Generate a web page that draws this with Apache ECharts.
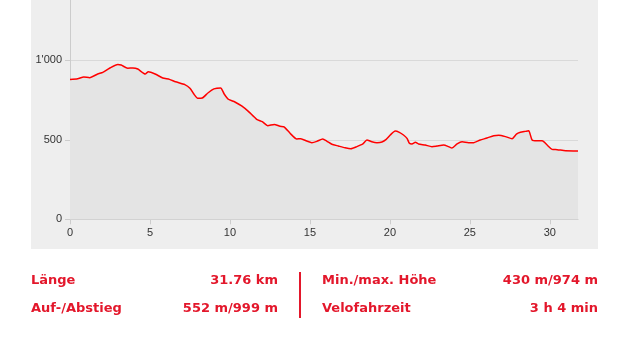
<!DOCTYPE html>
<html>
<head>
<meta charset="utf-8">
<script src="https://cdn.jsdelivr.net/npm/echarts@6/dist/echarts.min.js"></script>
<style>
html,body{margin:0;padding:0;background:#fff;}
#c{width:629px;height:342px;}
</style>
</head>
<body>
<div id="c"></div>
<script>
const distKm = [0, 0.48, 0.86, 1.23, 1.73, 2.05, 2.47, 2.99, 3.2, 3.61, 3.93, 4.24, 4.7, 4.9, 5.32, 5.8, 6.22, 6.6, 7.18, 7.5, 7.77, 7.98, 8.27, 8.64, 9.0, 9.42, 9.64, 9.9, 10.31, 10.73, 11.15, 11.67, 12.02, 12.36, 12.77, 13.13, 13.38, 13.76, 14.18, 14.43, 14.8, 15.12, 15.43, 15.8, 16.05, 16.37, 16.78, 17.2, 17.56, 17.93, 18.31, 18.56, 18.87, 19.19, 19.5, 19.77, 20.02, 20.33, 20.59, 20.85, 21.07, 21.22, 21.38, 21.59, 21.79, 22.21, 22.63, 22.94, 23.36, 23.67, 23.88, 24.2, 24.51, 24.92, 25.24, 25.65, 26.07, 26.49, 26.8, 27.22, 27.64, 27.91, 28.16, 28.47, 28.68, 28.89, 29.2, 29.52, 29.83, 30.14, 30.46, 30.98, 31.76];
const elevM = [880, 884, 895, 891, 914, 924, 950, 974, 970, 950, 952, 945, 914, 928, 914, 889, 880, 865, 847, 824, 784, 761, 763, 796, 820, 826, 788, 755, 738, 713, 679, 629, 614, 589, 597, 585, 582, 541, 505, 507, 492, 482, 490, 505, 492, 472, 461, 450, 444, 457, 474, 499, 488, 482, 486, 503, 530, 555, 547, 530, 509, 478, 474, 484, 474, 467, 457, 461, 467, 457, 448, 474, 488, 482, 482, 499, 511, 526, 528, 520, 507, 536, 547, 553, 557, 499, 494, 494, 467, 440, 438, 431, 430];
const xTicks = [0, 5, 10, 15, 20, 25, 30];
const yTicks = [0, 500, 1000];
const statLabelsLeft = ['Länge', 'Auf-/Abstieg'];
const statValuesLeft = ['31.76 km', '552 m/999 m'];
const statLabelsRight = ['Min./max. Höhe', 'Velofahrzeit'];
const statValuesRight = ['430 m/974 m', '3 h 4 min'];

const RED = '#e3172b';
const FONT = 'bold 13px "DejaVu Sans", Verdana, sans-serif';
const rowY = [281, 309];
const graphics = [
  { type: 'rect', z: -10, silent: true, shape: { x: 31, y: 0, width: 567, height: 249 }, style: { fill: '#eeeeee' } },
  { type: 'rect', z: 10, silent: true, shape: { x: 299, y: 272, width: 2, height: 46 }, style: { fill: RED } }
];
statLabelsLeft.forEach((t, i) => graphics.push({ type: 'text', z: 10, style: { text: t, x: 31, y: rowY[i], fill: RED, font: FONT, textAlign: 'left', textVerticalAlign: 'middle' } }));
statValuesLeft.forEach((t, i) => graphics.push({ type: 'text', z: 10, style: { text: t, x: 278, y: rowY[i], fill: RED, font: FONT, textAlign: 'right', textVerticalAlign: 'middle' } }));
statLabelsRight.forEach((t, i) => graphics.push({ type: 'text', z: 10, style: { text: t, x: 322, y: rowY[i], fill: RED, font: FONT, textAlign: 'left', textVerticalAlign: 'middle' } }));
statValuesRight.forEach((t, i) => graphics.push({ type: 'text', z: 10, style: { text: t, x: 598, y: rowY[i], fill: RED, font: FONT, textAlign: 'right', textVerticalAlign: 'middle' } }));

const chart = echarts.init(document.getElementById('c'), null, { renderer: 'canvas' });
chart.setOption({
  animation: false,
  backgroundColor: '#ffffff',
  grid: { left: 70, right: 51, top: -19.2, bottom: 122.7, containLabel: false, outerBoundsMode: 'none' },
  xAxis: {
    type: 'value', min: 0, max: distKm[distKm.length - 1], interval: 5,
    axisLine: { show: true, lineStyle: { color: '#cccccc', width: 1 } },
    axisTick: { show: true, length: 5, lineStyle: { color: '#cccccc' } },
    axisLabel: {
      margin: 8, color: '#333333', fontSize: 11, fontFamily: 'Arial, "Liberation Sans", sans-serif',
      showMaxLabel: false,
      formatter: v => xTicks.includes(v) ? String(v) : ''
    },
    splitLine: { show: false }
  },
  yAxis: {
    type: 'value', min: 0, max: 1500, interval: 500,
    axisLine: { show: true, lineStyle: { color: '#cccccc', width: 1 } },
    axisTick: { show: true, length: 5, lineStyle: { color: '#cccccc' } },
    axisLabel: {
      margin: 8, color: '#333333', fontSize: 11, fontFamily: 'Arial, "Liberation Sans", sans-serif',
      formatter: v => yTicks.includes(v) ? (v >= 1000 ? Math.floor(v / 1000) + "'" + String(v % 1000).padStart(3, '0') : String(v)) : ''
    },
    splitLine: { show: true, lineStyle: { color: '#d9d9d9', width: 1 } }
  },
  series: [{
    type: 'line',
    data: distKm.map((d, i) => [d, elevM[i]]),
    showSymbol: false,
    smooth: 0.2,
    lineStyle: { color: '#ff0000', width: 1.5 },
    areaStyle: { color: '#e4e4e4', opacity: 1 },
    z: 2
  }],
  graphic: graphics
});
</script>
</body>
</html>
